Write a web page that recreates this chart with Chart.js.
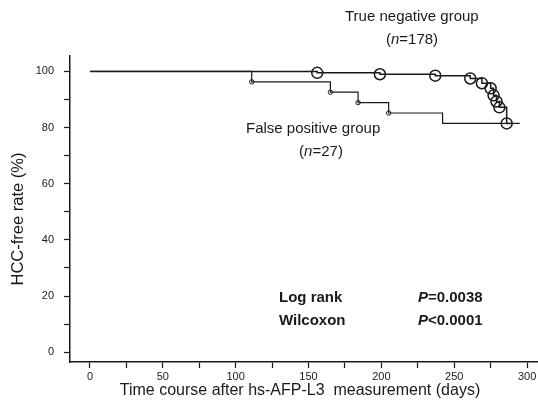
<!DOCTYPE html>
<html>
<head>
<meta charset="utf-8">
<script src="https://cdn.jsdelivr.net/npm/chart.js@4"></script>
<style>
  html, body { margin: 0; padding: 0; background: #fff; }
  #wrap { width: 538px; height: 407px; }
</style>
</head>
<body>
<div id="wrap"><canvas id="km" width="538" height="407"></canvas></div>
<script>
// Kaplan-Meier curves, days vs HCC-free rate (%)
const tnDays = [0, 156, 199, 237, 261, 269, 275, 277, 279, 281, 286, 290];
const tnRate = [100, 99.5, 99, 98.5, 97.5, 95.8, 94, 91.5, 89.3, 87.2, 81.5, 81.5];
const tnMarkDays = [156, 199, 237, 261, 269, 275, 277, 279, 281, 286];
const tnMarkRate = [99.5, 99, 98.5, 97.5, 95.8, 94, 91.5, 89.3, 87.2, 81.5];

const fpDays = [0, 111, 165, 184, 205, 242, 295];
const fpRate = [100, 96.3, 92.6, 88.9, 85.2, 81.5, 81.5];
const fpMarkDays = [111, 165, 184, 205];
const fpMarkRate = [96.3, 92.6, 88.9, 85.2];

const xTicks = [0, 50, 100, 150, 200, 250, 300];
const yTicks = [0, 20, 40, 60, 80, 100];

const toPts = (xs, ys) => xs.map((x, i) => ({ x: x, y: ys[i] }));
const FONT = "Arial, 'Liberation Sans', sans-serif";
const INK = "#1a1a1a";

// texte libre : groupes, stats, titres d'axes
const labelsPlugin = {
  id: "labels",
  afterDraw(chart) {
    const ctx = chart.ctx;
    ctx.save();
    ctx.fillStyle = INK;
    ctx.textBaseline = "middle";

    ctx.font = `15px ${FONT}`;
    ctx.textAlign = "left";
    ctx.fillText("True negative group", 345, 17);
    ctx.fillText("False positive group", 246, 129);

    const nLabel = (cx, cy, num) => {
      ctx.font = `15px ${FONT}`;
      const a = ctx.measureText("(").width;
      ctx.font = `italic 15px ${FONT}`;
      const b = ctx.measureText("n").width;
      ctx.font = `15px ${FONT}`;
      const c = ctx.measureText("=" + num + ")").width;
      let x = cx - (a + b + c) / 2;
      ctx.fillText("(", x, cy);
      x += a;
      ctx.font = `italic 15px ${FONT}`;
      ctx.fillText("n", x, cy);
      x += b;
      ctx.font = `15px ${FONT}`;
      ctx.fillText("=" + num + ")", x, cy);
    };
    nLabel(412, 40, "178");
    nLabel(321, 152, "27");

    // statistiques
    ctx.font = `bold 15px ${FONT}`;
    ctx.fillText("Log rank", 279, 298);
    ctx.fillText("Wilcoxon", 279, 321);
    const pLine = (x, y, rest) => {
      ctx.font = `italic bold 15px ${FONT}`;
      ctx.fillText("P", x, y);
      const w = ctx.measureText("P").width;
      ctx.font = `bold 15px ${FONT}`;
      ctx.fillText(rest, x + w, y);
    };
    pLine(418, 298, "=0.0038");
    pLine(418, 321, "<0.0001");

    // titres d'axes
    ctx.font = `16px ${FONT}`;
    ctx.textAlign = "center";
    ctx.fillText("Time course after hs-AFP-L3  measurement (days)", 300, 391);
    ctx.translate(18, 219);
    ctx.rotate(-Math.PI / 2);
    ctx.font = `16.5px ${FONT}`;
    ctx.fillText("HCC-free rate (%)", 0, 0);
    ctx.restore();
  },
};

new Chart(document.getElementById("km"), {
  type: "scatter",
  data: {
    datasets: [
      {
        label: "True negative",
        data: toPts(tnDays, tnRate),
        showLine: true,
        stepped: true,
        borderColor: INK,
        borderWidth: 1.5,
        pointRadius: 0,
        fill: false,
      },
      {
        label: "False positive",
        data: toPts(fpDays, fpRate),
        showLine: true,
        stepped: true,
        borderColor: INK,
        borderWidth: 1.2,
        pointRadius: 0,
        fill: false,
      },
      {
        label: "TN censored",
        data: toPts(tnMarkDays, tnMarkRate),
        showLine: false,
        pointRadius: 5.5,
        pointBackgroundColor: "rgba(255,255,255,0)",
        pointBorderColor: INK,
        pointBorderWidth: 1.5,
      },
      {
        label: "FP marks",
        data: toPts(fpMarkDays, fpMarkRate),
        showLine: false,
        pointRadius: 2.2,
        pointBackgroundColor: "#fff",
        pointBorderColor: INK,
        pointBorderWidth: 1,
      },
    ],
  },
  options: {
    responsive: false,
    animation: false,
    layout: { autoPadding: false, padding: { top: 56, right: 0, left: 0, bottom: 0 } },
    plugins: {
      legend: { display: false },
      tooltip: { enabled: false },
    },
    scales: {
      x: {
        type: "linear",
        min: -13.7,
        max: 307.5,
        afterFit: (s) => {
          s.height = 45;
          s.paddingLeft = 0;
          s.paddingRight = 0;
        },
        border: { display: true, color: INK, width: 1.5 },
        grid: { drawOnChartArea: false, tickLength: 6, color: INK, tickWidth: 1.2 },
        ticks: {
          stepSize: 25,
          includeBounds: false,
          maxRotation: 0,
          autoSkip: false,
          padding: 2,
          color: INK,
          font: { family: FONT, size: 11 },
          callback: (v) => (xTicks.includes(v) ? String(v) : ""),
        },
      },
      y: {
        type: "linear",
        min: -3.5,
        max: 105.5,
        afterFit: (s) => {
          s.width = 70;
          s.paddingTop = 0;
          s.paddingBottom = 0;
        },
        border: { display: true, color: INK, width: 1.5 },
        grid: { drawOnChartArea: false, tickLength: 6, color: INK, tickWidth: 1.2 },
        ticks: {
          stepSize: 10,
          includeBounds: false,
          autoSkip: false,
          padding: 10,
          color: INK,
          font: { family: FONT, size: 11 },
          callback: (v) => (yTicks.includes(v) ? String(v) : ""),
        },
      },
    },
  },
  plugins: [labelsPlugin],
});
</script>
</body>
</html>
